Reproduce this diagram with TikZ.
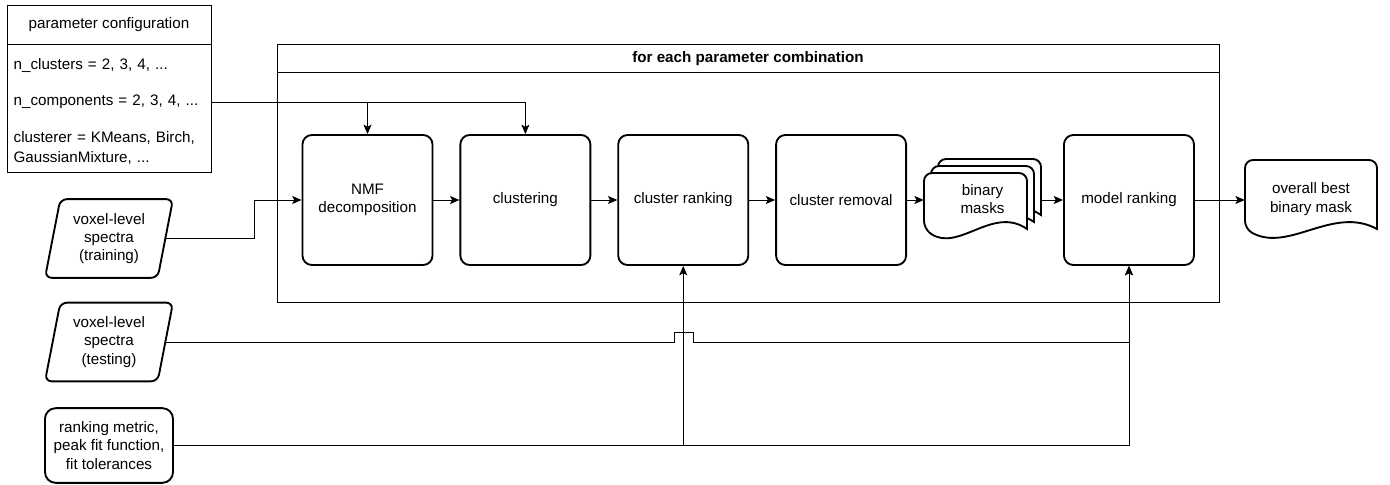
\documentclass[tikz,border=0pt]{standalone}
\usepackage{fontspec}
\setmainfont{Liberation Sans}
\usetikzlibrary{calc, positioning, shapes.geometric, arrows.meta}
\tikzstyle{link}=[line width=0.7pt]
\tikzstyle{arr}=[link, -{Stealth[length=7pt,width=6pt,inset=1.5pt]}]
\tikzstyle{proc}=[draw, line width=1.4pt, rounded corners=7pt, minimum width=97.5pt, minimum height=97.5pt, align=center]
\tikzstyle{data}=[draw, line width=1.4pt, trapezium, trapezium left angle=74, trapezium right angle=106, trapezium stretches body, rounded corners=5pt, minimum width=96pt, minimum height=59pt, align=center, inner sep=1pt]
\tikzstyle{setting}=[draw, line width=1.4pt, rounded corners=8pt, minimum width=96pt, minimum height=56pt, align=center]
\tikzstyle{row}=[minimum width=153pt, text width=143pt, align=left, inner sep=0pt, font=\fontsize{11.4}{15}\selectfont]
\tikzstyle{doc}=[draw, line width=1.4pt, fill=white]
\newcommand\drawdoc[4]{%
	\draw[doc] (#1+#3,#2+#4-8) [rounded corners=6pt] -- (#1+#3,#2) -- (#1,#2) -- (#1,#2+#4-8) [sharp corners]
		.. controls (#1+#3/3,#2+#4+16) and (#1+2*#3/3,#2+#4-32) .. (#1+#3,#2+#4-8) -- cycle;}

\begin{document}
\begin{tikzpicture}[x=0.75pt, y=-0.75pt, font=\fontsize{11.4}{13.7}\selectfont]
		\useasboundingbox (0,0) rectangle (1390,485);
		
		\node[draw, link, minimum width=706.5pt, minimum height=193.5pt] (loop) at (748,173) {};
		\draw[link] ($(loop.north west)+(0,29)$) -- ($(loop.north east)+(0,29)$);
		\node[font=\fontsize{11.4}{13.7}\selectfont\bfseries] (title) at ($(loop.north)+(0,15)$) {for each parameter combination};
		
		\node[draw, link, minimum width=153pt, minimum height=29.25pt] (param) at (109,24.5) {parameter configuration};
		\node[draw, link, minimum width=153pt, minimum height=96pt] (plist) at (109,108) {};
		\node[row] (p1) at (109,66) {n\_clusters = 2, 3, 4, ...};
		\node[row] (p2) at (109,102) {n\_components = 2, 3, 4, ...};
		\node[row] (p3) at (109,148) {clusterer = KMeans, Birch,\\GaussianMixture, ...};
		
		\node[proc] (nmf) at (367.5,200) {NMF\\decomposition};
		\node[proc, right=19.5pt of nmf] (clu) {clustering};
		\node[proc, right=19.5pt of clu] (rank) {cluster ranking};
		\node[proc, right=19.5pt of rank] (rem) {cluster removal};
		\node[proc] (model) at (1129,200) {model ranking};
		
		\drawdoc{938}{159}{103}{64}
		\drawdoc{931}{166}{103}{64}
		\drawdoc{924}{173}{103}{64}
		\node[align=center, minimum width=87.75pt, minimum height=58.5pt] (masks) at (982.5,199) {binary\\masks};
		
		\drawdoc{1245}{160}{132}{77}
		\node[align=center, minimum width=99pt, minimum height=57.75pt] (best) at (1311,199) {overall best\\binary mask};
		
		\node[data] (train) at (109,238.5) {voxel-level\\spectra\\(training)};
		\node[data] (test) at (109,342) {voxel-level\\spectra\\(testing)};
		\node[setting] (metric) at (109,445.5) {ranking metric,\\peak fit function,\\fit tolerances};
		
		\draw[arr] (nmf.east) -- (clu.west);
		\draw[arr] (clu.east) -- (rank.west);
		\draw[arr] (rank.east) -- (rem.west);
		\draw[arr] (rem.east) -- (rem.east -| masks.west);
		\draw[arr] (masks.east |- model.west) -- (model.west);
		\draw[arr] (model.east) -- (model.east -| best.west);
		
		\draw[arr] (p2.east) -| (clu.north);
		\draw[arr] (p2.east -| nmf.north) -- (nmf.north);
		\draw[arr] (train.east) -- ++(88,0) |- (nmf.west);
		\draw[arr] (test.east) -- ($(test.east -| rank.south)+(-9,0)$) -- ++(0,-10) -- ++(19,0) -- ++(0,10) -| (model.south);
		\draw[arr] (metric.east) -| (model.south);
		\draw[arr] (metric.east -| rank.south) -- (rank.south);
		
\end{tikzpicture}
\end{document}
